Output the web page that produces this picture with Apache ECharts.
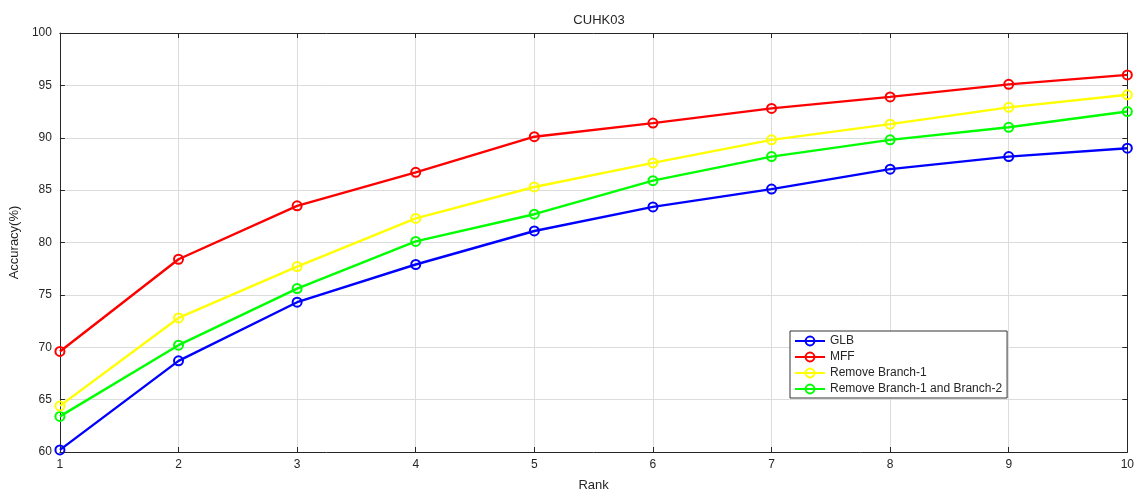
<!DOCTYPE html>
<html lang="en">
<head>
    <meta charset="UTF-8">
    <title>CUHK03</title>
    <script type="text/javascript" src="https://cdn.jsdelivr.net/npm/echarts@6/dist/echarts.min.js"></script>
    <style>
        body { margin: 0; background: #fff; }
        #chart { width: 1137px; height: 497px; }
    </style>
</head>
<body>
<div id="chart"></div>
<script type="text/javascript">
    // 数据
    var ranks = [1, 2, 3, 4, 5, 6, 7, 8, 9, 10];
    var seriesNames = ['GLB', 'MFF', 'Remove Branch-1', 'Remove Branch-1 and Branch-2'];
    var glb = [60.2, 68.7, 74.3, 77.9, 81.1, 83.4, 85.1, 87.0, 88.2, 89.0];
    var mff = [69.6, 78.4, 83.5, 86.7, 90.1, 91.4, 92.8, 93.9, 95.1, 96.0];
    var removeB1 = [64.4, 72.8, 77.7, 82.3, 85.3, 87.6, 89.8, 91.3, 92.9, 94.1];
    var removeB12 = [63.4, 70.2, 75.6, 80.1, 82.7, 85.9, 88.2, 89.8, 91.0, 92.5];
    var colors = ['#0000ff', '#ff0000', '#ffff00', '#00ff00'];

    var chart = echarts.init(document.getElementById('chart'));
    var txt = '#262626';
    var font = 'Liberation Sans, Arial, sans-serif';

    function pairs(vals) {
        var out = [];
        for (var i = 0; i < ranks.length; i++) {
            out.push([ranks[i], vals[i]]);
        }
        return out;
    }

    var allData = [glb, mff, removeB1, removeB12];
    var series = [];
    for (var k = 0; k < allData.length; k++) {
        series.push({
            name: seriesNames[k],
            type: 'line',
            data: pairs(allData[k]),
            symbol: 'circle',
            symbolSize: 9,
            color: colors[k],
            lineStyle: { width: 2.4, color: colors[k] },
            // 空心圆, 线从中间穿过
            itemStyle: { color: 'rgba(0,0,0,0)', borderColor: colors[k], borderWidth: 2 },
            z: 10 - k
        });
    }

    var option = {
        animation: false,
        backgroundColor: '#fff',
        textStyle: { fontFamily: font },
        title: {
            text: 'CUHK03',
            left: 594,
            textAlign: 'center',
            top: 9,
            textStyle: { fontSize: 13, fontWeight: 'normal', color: txt, fontFamily: font }
        },
        legend: {
            orient: 'vertical',
            left: 790,
            top: 331,
            data: seriesNames,
            itemWidth: 30,
            itemHeight: 11,
            itemGap: 4,
            padding: [4, 5, 3, 4],
            backgroundColor: '#fff',
            borderColor: '#333',
            borderWidth: 1,
            borderRadius: 0,
            textStyle: { fontSize: 12, color: txt, fontFamily: font }
        },
        grid: { left: 59, right: 8, top: 33, bottom: 45, containLabel: false },
        xAxis: [{
            type: 'value',
            min: 1,
            max: 10,
            interval: 1,
            name: 'Rank',
            nameLocation: 'middle',
            nameGap: 27,
            nameTextStyle: { fontSize: 13, color: txt, fontFamily: font },
            axisLine: { lineStyle: { color: '#262626', width: 1 } },
            axisTick: { inside: true, length: 5, lineStyle: { color: '#262626' } },
            axisLabel: { color: txt, fontSize: 12, margin: 7 },
            splitLine: { show: true, lineStyle: { color: '#dcdcdc', width: 1 } }
        }, {
            type: 'value',
            position: 'top',
            min: 1,
            max: 10,
            interval: 1,
            axisLine: { show: true, lineStyle: { color: '#262626', width: 1 } },
            axisTick: { show: true, inside: true, length: 5, lineStyle: { color: '#262626' } },
            axisLabel: { show: false },
            splitLine: { show: false }
        }],
        yAxis: [{
            type: 'value',
            min: 60,
            max: 100,
            interval: 5,
            name: 'Accuracy(%)',
            nameLocation: 'middle',
            nameGap: 38,
            nameTextStyle: { fontSize: 13, color: txt, fontFamily: font },
            axisLine: { show: true, lineStyle: { color: '#262626', width: 1 } },
            axisTick: { show: true, inside: true, length: 5, lineStyle: { color: '#262626' } },
            axisLabel: { color: txt, fontSize: 12, margin: 8 },
            splitLine: { show: true, lineStyle: { color: '#dcdcdc', width: 1 } }
        }, {
            type: 'value',
            position: 'right',
            min: 60,
            max: 100,
            interval: 5,
            axisLine: { show: true, lineStyle: { color: '#262626', width: 1 } },
            axisTick: { show: true, inside: true, length: 5, lineStyle: { color: '#262626' } },
            axisLabel: { show: false },
            splitLine: { show: false }
        }],
        series: series
    };
    chart.setOption(option);
</script>
</body>
</html>
